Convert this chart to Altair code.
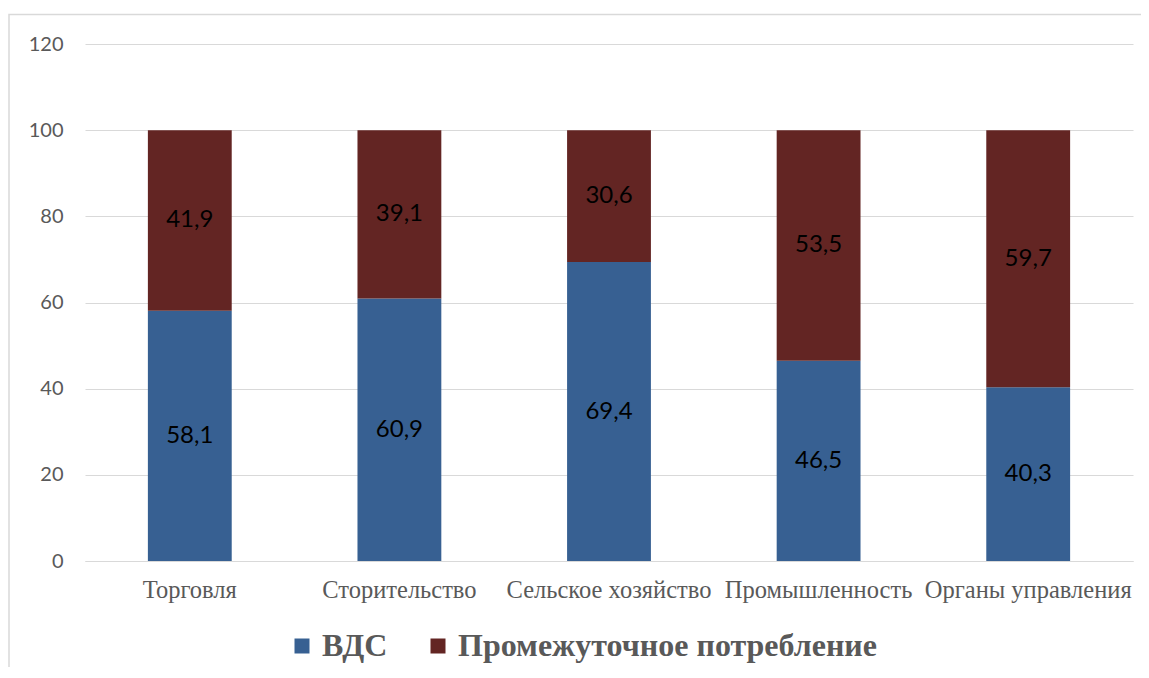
import altair as alt
import pandas as pd

categories = ["Торговля", "Сторительство", "Сельское хозяйство", "Промышленность", "Органы управления"]
series_names = ["ВДС", "Промежуточное потребление"]
vds = [58.1, 60.9, 69.4, 46.5, 40.3]
intermediate = [41.9, 39.1, 30.6, 53.5, 59.7]
colors = ["#376092", "#632523"]

rows = []
for i, c in enumerate(categories):
    for s, vals in ((0, vds), (1, intermediate)):
        rows.append({"cat": c, "series": series_names[s], "order": s, "value": vals[i],
                     "label": f"{vals[i]:.1f}".replace(".", ",")})
df = pd.DataFrame(rows)

border = alt.Chart(pd.DataFrame({"a": [0]})).mark_rect(
    fill=None, stroke="#d9d9d9", strokeWidth=1.5
).encode(x=alt.value(-76), x2=alt.value(1300), y=alt.value(-29.5), y2=alt.value(900))

base = alt.Chart(df)

bars = base.mark_bar().encode(
    x=alt.X("cat:N", sort=categories, title=None,
            scale=alt.Scale(paddingInner=0.6, paddingOuter=0.3),
            axis=alt.Axis(labelAngle=0, labelFont="Liberation Serif", labelFontSize=24.5,
                          labelColor="#595959", labelPadding=17, ticks=False,
                          domainColor="#d9d9d9", domainWidth=1, labelLimit=300)),
    y=alt.Y("value:Q", stack="zero", title=None,
            scale=alt.Scale(domain=[0, 120]),
            axis=alt.Axis(values=[0, 20, 40, 60, 80, 100, 120], labelFont="Lato",
                          labelFontSize=20, labelColor="#595959", labelPadding=22,
                          ticks=False, domain=False, gridColor="#d9d9d9", gridWidth=1)),
    color=alt.Color("series:N", sort=series_names,
                    scale=alt.Scale(domain=series_names, range=colors),
                    legend=alt.Legend(title=None, orient="none", legendX=201, legendY=586,
                                      direction="horizontal", symbolType="square",
                                      symbolSize=225, symbolStrokeWidth=0,
                                      labelFont="Liberation Serif", labelFontSize=32,
                                      labelFontWeight="bold", labelColor="#595959",
                                      labelOffset=4, columnPadding=34, labelLimit=700)),
    order=alt.Order("order:Q"),
)

text = base.mark_text(font="Lato", fontSize=24, color="#000000").encode(
    x=alt.X("cat:N", sort=categories),
    y=alt.Y("value:Q", stack="zero", bandPosition=0.5),
    text="label:N",
    order=alt.Order("order:Q"),
)

chart = alt.layer(border, bars, text).properties(
    width=1048, height=517,
    autosize=alt.AutoSizeParams(type="none"),
    padding={"left": 77, "top": 36, "right": 8, "bottom": 106},
).configure_view(stroke=None)

chart.save("out.html", embed_options={"renderer": "svg", "actions": False})
